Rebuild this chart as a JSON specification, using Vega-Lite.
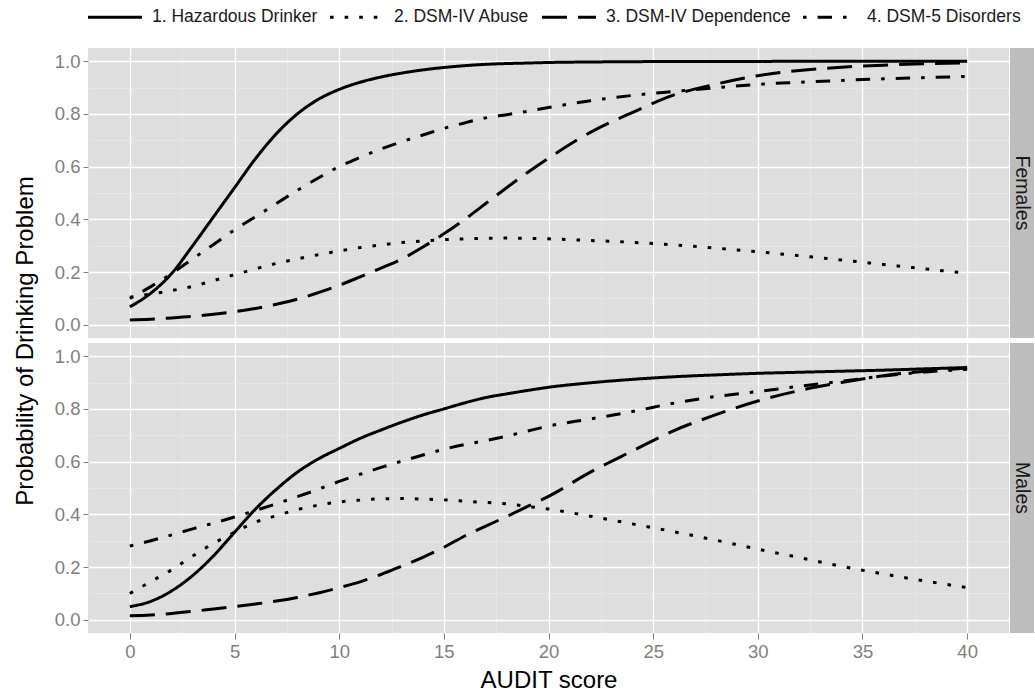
{
  "$schema": "https://vega.github.io/schema/vega-lite/v6.json",
  "padding": {"left": 13, "top": 2, "right": 0, "bottom": 0},
  "background": "white",
  "datasets": {
    "curves": [
      {"sex":"Females","measure":"1. Hazardous Drinker","score":0,"prob":0.068},
      {"sex":"Females","measure":"1. Hazardous Drinker","score":1,"prob":0.12},
      {"sex":"Females","measure":"1. Hazardous Drinker","score":2,"prob":0.195},
      {"sex":"Females","measure":"1. Hazardous Drinker","score":3,"prob":0.3},
      {"sex":"Females","measure":"1. Hazardous Drinker","score":4,"prob":0.41},
      {"sex":"Females","measure":"1. Hazardous Drinker","score":5,"prob":0.52},
      {"sex":"Females","measure":"1. Hazardous Drinker","score":6,"prob":0.63},
      {"sex":"Females","measure":"1. Hazardous Drinker","score":7,"prob":0.725},
      {"sex":"Females","measure":"1. Hazardous Drinker","score":8,"prob":0.8},
      {"sex":"Females","measure":"1. Hazardous Drinker","score":9,"prob":0.855},
      {"sex":"Females","measure":"1. Hazardous Drinker","score":10,"prob":0.893},
      {"sex":"Females","measure":"1. Hazardous Drinker","score":11,"prob":0.92},
      {"sex":"Females","measure":"1. Hazardous Drinker","score":12,"prob":0.94},
      {"sex":"Females","measure":"1. Hazardous Drinker","score":13,"prob":0.955},
      {"sex":"Females","measure":"1. Hazardous Drinker","score":14,"prob":0.967},
      {"sex":"Females","measure":"1. Hazardous Drinker","score":15,"prob":0.976},
      {"sex":"Females","measure":"1. Hazardous Drinker","score":16,"prob":0.983},
      {"sex":"Females","measure":"1. Hazardous Drinker","score":17,"prob":0.988},
      {"sex":"Females","measure":"1. Hazardous Drinker","score":18,"prob":0.991},
      {"sex":"Females","measure":"1. Hazardous Drinker","score":19,"prob":0.993},
      {"sex":"Females","measure":"1. Hazardous Drinker","score":20,"prob":0.995},
      {"sex":"Females","measure":"1. Hazardous Drinker","score":22,"prob":0.997},
      {"sex":"Females","measure":"1. Hazardous Drinker","score":24,"prob":0.998},
      {"sex":"Females","measure":"1. Hazardous Drinker","score":26,"prob":0.999},
      {"sex":"Females","measure":"1. Hazardous Drinker","score":28,"prob":0.999},
      {"sex":"Females","measure":"1. Hazardous Drinker","score":30,"prob":0.999},
      {"sex":"Females","measure":"1. Hazardous Drinker","score":32,"prob":1.0},
      {"sex":"Females","measure":"1. Hazardous Drinker","score":34,"prob":1.0},
      {"sex":"Females","measure":"1. Hazardous Drinker","score":36,"prob":1.0},
      {"sex":"Females","measure":"1. Hazardous Drinker","score":38,"prob":1.0},
      {"sex":"Females","measure":"1. Hazardous Drinker","score":40,"prob":1.0},

      {"sex":"Females","measure":"2. DSM-IV Abuse","score":0,"prob":0.105},
      {"sex":"Females","measure":"2. DSM-IV Abuse","score":1,"prob":0.117},
      {"sex":"Females","measure":"2. DSM-IV Abuse","score":2,"prob":0.13},
      {"sex":"Females","measure":"2. DSM-IV Abuse","score":3,"prob":0.146},
      {"sex":"Females","measure":"2. DSM-IV Abuse","score":4,"prob":0.168},
      {"sex":"Females","measure":"2. DSM-IV Abuse","score":5,"prob":0.19},
      {"sex":"Females","measure":"2. DSM-IV Abuse","score":6,"prob":0.212},
      {"sex":"Females","measure":"2. DSM-IV Abuse","score":7,"prob":0.233},
      {"sex":"Females","measure":"2. DSM-IV Abuse","score":8,"prob":0.25},
      {"sex":"Females","measure":"2. DSM-IV Abuse","score":9,"prob":0.266},
      {"sex":"Females","measure":"2. DSM-IV Abuse","score":10,"prob":0.28},
      {"sex":"Females","measure":"2. DSM-IV Abuse","score":11,"prob":0.293},
      {"sex":"Females","measure":"2. DSM-IV Abuse","score":12,"prob":0.303},
      {"sex":"Females","measure":"2. DSM-IV Abuse","score":13,"prob":0.312},
      {"sex":"Females","measure":"2. DSM-IV Abuse","score":14,"prob":0.318},
      {"sex":"Females","measure":"2. DSM-IV Abuse","score":15,"prob":0.323},
      {"sex":"Females","measure":"2. DSM-IV Abuse","score":16,"prob":0.326},
      {"sex":"Females","measure":"2. DSM-IV Abuse","score":17,"prob":0.328},
      {"sex":"Females","measure":"2. DSM-IV Abuse","score":18,"prob":0.329},
      {"sex":"Females","measure":"2. DSM-IV Abuse","score":19,"prob":0.328},
      {"sex":"Females","measure":"2. DSM-IV Abuse","score":20,"prob":0.326},
      {"sex":"Females","measure":"2. DSM-IV Abuse","score":22,"prob":0.32},
      {"sex":"Females","measure":"2. DSM-IV Abuse","score":24,"prob":0.313},
      {"sex":"Females","measure":"2. DSM-IV Abuse","score":26,"prob":0.303},
      {"sex":"Females","measure":"2. DSM-IV Abuse","score":28,"prob":0.291},
      {"sex":"Females","measure":"2. DSM-IV Abuse","score":30,"prob":0.277},
      {"sex":"Females","measure":"2. DSM-IV Abuse","score":32,"prob":0.262},
      {"sex":"Females","measure":"2. DSM-IV Abuse","score":34,"prob":0.246},
      {"sex":"Females","measure":"2. DSM-IV Abuse","score":36,"prob":0.229},
      {"sex":"Females","measure":"2. DSM-IV Abuse","score":38,"prob":0.212},
      {"sex":"Females","measure":"2. DSM-IV Abuse","score":40,"prob":0.196},

      {"sex":"Females","measure":"3. DSM-IV Dependence","score":0,"prob":0.018},
      {"sex":"Females","measure":"3. DSM-IV Dependence","score":1,"prob":0.021},
      {"sex":"Females","measure":"3. DSM-IV Dependence","score":2,"prob":0.026},
      {"sex":"Females","measure":"3. DSM-IV Dependence","score":3,"prob":0.032},
      {"sex":"Females","measure":"3. DSM-IV Dependence","score":4,"prob":0.04},
      {"sex":"Females","measure":"3. DSM-IV Dependence","score":5,"prob":0.05},
      {"sex":"Females","measure":"3. DSM-IV Dependence","score":6,"prob":0.062},
      {"sex":"Females","measure":"3. DSM-IV Dependence","score":7,"prob":0.078},
      {"sex":"Females","measure":"3. DSM-IV Dependence","score":8,"prob":0.097},
      {"sex":"Females","measure":"3. DSM-IV Dependence","score":9,"prob":0.122},
      {"sex":"Females","measure":"3. DSM-IV Dependence","score":10,"prob":0.15},
      {"sex":"Females","measure":"3. DSM-IV Dependence","score":11,"prob":0.182},
      {"sex":"Females","measure":"3. DSM-IV Dependence","score":12,"prob":0.215},
      {"sex":"Females","measure":"3. DSM-IV Dependence","score":13,"prob":0.25},
      {"sex":"Females","measure":"3. DSM-IV Dependence","score":14,"prob":0.295},
      {"sex":"Females","measure":"3. DSM-IV Dependence","score":15,"prob":0.345},
      {"sex":"Females","measure":"3. DSM-IV Dependence","score":16,"prob":0.4},
      {"sex":"Females","measure":"3. DSM-IV Dependence","score":17,"prob":0.46},
      {"sex":"Females","measure":"3. DSM-IV Dependence","score":18,"prob":0.52},
      {"sex":"Females","measure":"3. DSM-IV Dependence","score":19,"prob":0.578},
      {"sex":"Females","measure":"3. DSM-IV Dependence","score":20,"prob":0.632},
      {"sex":"Females","measure":"3. DSM-IV Dependence","score":22,"prob":0.73},
      {"sex":"Females","measure":"3. DSM-IV Dependence","score":24,"prob":0.805},
      {"sex":"Females","measure":"3. DSM-IV Dependence","score":26,"prob":0.872},
      {"sex":"Females","measure":"3. DSM-IV Dependence","score":28,"prob":0.913},
      {"sex":"Females","measure":"3. DSM-IV Dependence","score":30,"prob":0.945},
      {"sex":"Females","measure":"3. DSM-IV Dependence","score":32,"prob":0.965},
      {"sex":"Females","measure":"3. DSM-IV Dependence","score":34,"prob":0.977},
      {"sex":"Females","measure":"3. DSM-IV Dependence","score":36,"prob":0.985},
      {"sex":"Females","measure":"3. DSM-IV Dependence","score":38,"prob":0.99},
      {"sex":"Females","measure":"3. DSM-IV Dependence","score":40,"prob":0.994},

      {"sex":"Females","measure":"4. DSM-5 Disorders","score":0,"prob":0.1},
      {"sex":"Females","measure":"4. DSM-5 Disorders","score":1,"prob":0.145},
      {"sex":"Females","measure":"4. DSM-5 Disorders","score":2,"prob":0.195},
      {"sex":"Females","measure":"4. DSM-5 Disorders","score":3,"prob":0.25},
      {"sex":"Females","measure":"4. DSM-5 Disorders","score":4,"prob":0.305},
      {"sex":"Females","measure":"4. DSM-5 Disorders","score":5,"prob":0.36},
      {"sex":"Females","measure":"4. DSM-5 Disorders","score":6,"prob":0.41},
      {"sex":"Females","measure":"4. DSM-5 Disorders","score":7,"prob":0.46},
      {"sex":"Females","measure":"4. DSM-5 Disorders","score":8,"prob":0.51},
      {"sex":"Females","measure":"4. DSM-5 Disorders","score":9,"prob":0.557},
      {"sex":"Females","measure":"4. DSM-5 Disorders","score":10,"prob":0.6},
      {"sex":"Females","measure":"4. DSM-5 Disorders","score":11,"prob":0.635},
      {"sex":"Females","measure":"4. DSM-5 Disorders","score":12,"prob":0.667},
      {"sex":"Females","measure":"4. DSM-5 Disorders","score":13,"prob":0.695},
      {"sex":"Females","measure":"4. DSM-5 Disorders","score":14,"prob":0.72},
      {"sex":"Females","measure":"4. DSM-5 Disorders","score":15,"prob":0.745},
      {"sex":"Females","measure":"4. DSM-5 Disorders","score":16,"prob":0.766},
      {"sex":"Females","measure":"4. DSM-5 Disorders","score":17,"prob":0.785},
      {"sex":"Females","measure":"4. DSM-5 Disorders","score":18,"prob":0.797},
      {"sex":"Females","measure":"4. DSM-5 Disorders","score":19,"prob":0.81},
      {"sex":"Females","measure":"4. DSM-5 Disorders","score":20,"prob":0.824},
      {"sex":"Females","measure":"4. DSM-5 Disorders","score":22,"prob":0.85},
      {"sex":"Females","measure":"4. DSM-5 Disorders","score":24,"prob":0.87},
      {"sex":"Females","measure":"4. DSM-5 Disorders","score":26,"prob":0.885},
      {"sex":"Females","measure":"4. DSM-5 Disorders","score":28,"prob":0.899},
      {"sex":"Females","measure":"4. DSM-5 Disorders","score":30,"prob":0.912},
      {"sex":"Females","measure":"4. DSM-5 Disorders","score":32,"prob":0.92},
      {"sex":"Females","measure":"4. DSM-5 Disorders","score":34,"prob":0.927},
      {"sex":"Females","measure":"4. DSM-5 Disorders","score":36,"prob":0.933},
      {"sex":"Females","measure":"4. DSM-5 Disorders","score":38,"prob":0.938},
      {"sex":"Females","measure":"4. DSM-5 Disorders","score":40,"prob":0.942},

      {"sex":"Males","measure":"1. Hazardous Drinker","score":0,"prob":0.05},
      {"sex":"Males","measure":"1. Hazardous Drinker","score":1,"prob":0.07},
      {"sex":"Males","measure":"1. Hazardous Drinker","score":2,"prob":0.11},
      {"sex":"Males","measure":"1. Hazardous Drinker","score":3,"prob":0.168},
      {"sex":"Males","measure":"1. Hazardous Drinker","score":4,"prob":0.243},
      {"sex":"Males","measure":"1. Hazardous Drinker","score":5,"prob":0.332},
      {"sex":"Males","measure":"1. Hazardous Drinker","score":6,"prob":0.42},
      {"sex":"Males","measure":"1. Hazardous Drinker","score":7,"prob":0.495},
      {"sex":"Males","measure":"1. Hazardous Drinker","score":8,"prob":0.56},
      {"sex":"Males","measure":"1. Hazardous Drinker","score":9,"prob":0.61},
      {"sex":"Males","measure":"1. Hazardous Drinker","score":10,"prob":0.65},
      {"sex":"Males","measure":"1. Hazardous Drinker","score":11,"prob":0.688},
      {"sex":"Males","measure":"1. Hazardous Drinker","score":12,"prob":0.72},
      {"sex":"Males","measure":"1. Hazardous Drinker","score":13,"prob":0.75},
      {"sex":"Males","measure":"1. Hazardous Drinker","score":14,"prob":0.777},
      {"sex":"Males","measure":"1. Hazardous Drinker","score":15,"prob":0.8},
      {"sex":"Males","measure":"1. Hazardous Drinker","score":16,"prob":0.823},
      {"sex":"Males","measure":"1. Hazardous Drinker","score":17,"prob":0.843},
      {"sex":"Males","measure":"1. Hazardous Drinker","score":18,"prob":0.857},
      {"sex":"Males","measure":"1. Hazardous Drinker","score":19,"prob":0.87},
      {"sex":"Males","measure":"1. Hazardous Drinker","score":20,"prob":0.882},
      {"sex":"Males","measure":"1. Hazardous Drinker","score":22,"prob":0.899},
      {"sex":"Males","measure":"1. Hazardous Drinker","score":24,"prob":0.912},
      {"sex":"Males","measure":"1. Hazardous Drinker","score":26,"prob":0.922},
      {"sex":"Males","measure":"1. Hazardous Drinker","score":28,"prob":0.929},
      {"sex":"Males","measure":"1. Hazardous Drinker","score":30,"prob":0.935},
      {"sex":"Males","measure":"1. Hazardous Drinker","score":32,"prob":0.939},
      {"sex":"Males","measure":"1. Hazardous Drinker","score":34,"prob":0.943},
      {"sex":"Males","measure":"1. Hazardous Drinker","score":36,"prob":0.947},
      {"sex":"Males","measure":"1. Hazardous Drinker","score":38,"prob":0.952},
      {"sex":"Males","measure":"1. Hazardous Drinker","score":40,"prob":0.957},

      {"sex":"Males","measure":"2. DSM-IV Abuse","score":0,"prob":0.1},
      {"sex":"Males","measure":"2. DSM-IV Abuse","score":1,"prob":0.145},
      {"sex":"Males","measure":"2. DSM-IV Abuse","score":2,"prob":0.19},
      {"sex":"Males","measure":"2. DSM-IV Abuse","score":3,"prob":0.242},
      {"sex":"Males","measure":"2. DSM-IV Abuse","score":4,"prob":0.29},
      {"sex":"Males","measure":"2. DSM-IV Abuse","score":5,"prob":0.332},
      {"sex":"Males","measure":"2. DSM-IV Abuse","score":6,"prob":0.37},
      {"sex":"Males","measure":"2. DSM-IV Abuse","score":7,"prob":0.395},
      {"sex":"Males","measure":"2. DSM-IV Abuse","score":8,"prob":0.418},
      {"sex":"Males","measure":"2. DSM-IV Abuse","score":9,"prob":0.435},
      {"sex":"Males","measure":"2. DSM-IV Abuse","score":10,"prob":0.447},
      {"sex":"Males","measure":"2. DSM-IV Abuse","score":11,"prob":0.454},
      {"sex":"Males","measure":"2. DSM-IV Abuse","score":12,"prob":0.459},
      {"sex":"Males","measure":"2. DSM-IV Abuse","score":13,"prob":0.46},
      {"sex":"Males","measure":"2. DSM-IV Abuse","score":14,"prob":0.458},
      {"sex":"Males","measure":"2. DSM-IV Abuse","score":15,"prob":0.455},
      {"sex":"Males","measure":"2. DSM-IV Abuse","score":16,"prob":0.45},
      {"sex":"Males","measure":"2. DSM-IV Abuse","score":17,"prob":0.445},
      {"sex":"Males","measure":"2. DSM-IV Abuse","score":18,"prob":0.44},
      {"sex":"Males","measure":"2. DSM-IV Abuse","score":19,"prob":0.43},
      {"sex":"Males","measure":"2. DSM-IV Abuse","score":20,"prob":0.42},
      {"sex":"Males","measure":"2. DSM-IV Abuse","score":22,"prob":0.393},
      {"sex":"Males","measure":"2. DSM-IV Abuse","score":24,"prob":0.364},
      {"sex":"Males","measure":"2. DSM-IV Abuse","score":26,"prob":0.334},
      {"sex":"Males","measure":"2. DSM-IV Abuse","score":28,"prob":0.302},
      {"sex":"Males","measure":"2. DSM-IV Abuse","score":30,"prob":0.268},
      {"sex":"Males","measure":"2. DSM-IV Abuse","score":32,"prob":0.236},
      {"sex":"Males","measure":"2. DSM-IV Abuse","score":34,"prob":0.203},
      {"sex":"Males","measure":"2. DSM-IV Abuse","score":36,"prob":0.174},
      {"sex":"Males","measure":"2. DSM-IV Abuse","score":38,"prob":0.147},
      {"sex":"Males","measure":"2. DSM-IV Abuse","score":40,"prob":0.122},

      {"sex":"Males","measure":"3. DSM-IV Dependence","score":0,"prob":0.015},
      {"sex":"Males","measure":"3. DSM-IV Dependence","score":1,"prob":0.018},
      {"sex":"Males","measure":"3. DSM-IV Dependence","score":2,"prob":0.024},
      {"sex":"Males","measure":"3. DSM-IV Dependence","score":3,"prob":0.032},
      {"sex":"Males","measure":"3. DSM-IV Dependence","score":4,"prob":0.041},
      {"sex":"Males","measure":"3. DSM-IV Dependence","score":5,"prob":0.05},
      {"sex":"Males","measure":"3. DSM-IV Dependence","score":6,"prob":0.06},
      {"sex":"Males","measure":"3. DSM-IV Dependence","score":7,"prob":0.071},
      {"sex":"Males","measure":"3. DSM-IV Dependence","score":8,"prob":0.085},
      {"sex":"Males","measure":"3. DSM-IV Dependence","score":9,"prob":0.102},
      {"sex":"Males","measure":"3. DSM-IV Dependence","score":10,"prob":0.122},
      {"sex":"Males","measure":"3. DSM-IV Dependence","score":11,"prob":0.144},
      {"sex":"Males","measure":"3. DSM-IV Dependence","score":12,"prob":0.172},
      {"sex":"Males","measure":"3. DSM-IV Dependence","score":13,"prob":0.204},
      {"sex":"Males","measure":"3. DSM-IV Dependence","score":14,"prob":0.237},
      {"sex":"Males","measure":"3. DSM-IV Dependence","score":15,"prob":0.275},
      {"sex":"Males","measure":"3. DSM-IV Dependence","score":16,"prob":0.318},
      {"sex":"Males","measure":"3. DSM-IV Dependence","score":17,"prob":0.355},
      {"sex":"Males","measure":"3. DSM-IV Dependence","score":18,"prob":0.392},
      {"sex":"Males","measure":"3. DSM-IV Dependence","score":19,"prob":0.43},
      {"sex":"Males","measure":"3. DSM-IV Dependence","score":20,"prob":0.468},
      {"sex":"Males","measure":"3. DSM-IV Dependence","score":22,"prob":0.56},
      {"sex":"Males","measure":"3. DSM-IV Dependence","score":24,"prob":0.64},
      {"sex":"Males","measure":"3. DSM-IV Dependence","score":26,"prob":0.718},
      {"sex":"Males","measure":"3. DSM-IV Dependence","score":28,"prob":0.778},
      {"sex":"Males","measure":"3. DSM-IV Dependence","score":30,"prob":0.83},
      {"sex":"Males","measure":"3. DSM-IV Dependence","score":32,"prob":0.87},
      {"sex":"Males","measure":"3. DSM-IV Dependence","score":34,"prob":0.9},
      {"sex":"Males","measure":"3. DSM-IV Dependence","score":36,"prob":0.926},
      {"sex":"Males","measure":"3. DSM-IV Dependence","score":38,"prob":0.943},
      {"sex":"Males","measure":"3. DSM-IV Dependence","score":40,"prob":0.955},

      {"sex":"Males","measure":"4. DSM-5 Disorders","score":0,"prob":0.28},
      {"sex":"Males","measure":"4. DSM-5 Disorders","score":1,"prob":0.3},
      {"sex":"Males","measure":"4. DSM-5 Disorders","score":2,"prob":0.322},
      {"sex":"Males","measure":"4. DSM-5 Disorders","score":3,"prob":0.345},
      {"sex":"Males","measure":"4. DSM-5 Disorders","score":4,"prob":0.367},
      {"sex":"Males","measure":"4. DSM-5 Disorders","score":5,"prob":0.39},
      {"sex":"Males","measure":"4. DSM-5 Disorders","score":6,"prob":0.415},
      {"sex":"Males","measure":"4. DSM-5 Disorders","score":7,"prob":0.44},
      {"sex":"Males","measure":"4. DSM-5 Disorders","score":8,"prob":0.467},
      {"sex":"Males","measure":"4. DSM-5 Disorders","score":9,"prob":0.495},
      {"sex":"Males","measure":"4. DSM-5 Disorders","score":10,"prob":0.525},
      {"sex":"Males","measure":"4. DSM-5 Disorders","score":11,"prob":0.552},
      {"sex":"Males","measure":"4. DSM-5 Disorders","score":12,"prob":0.578},
      {"sex":"Males","measure":"4. DSM-5 Disorders","score":13,"prob":0.602},
      {"sex":"Males","measure":"4. DSM-5 Disorders","score":14,"prob":0.625},
      {"sex":"Males","measure":"4. DSM-5 Disorders","score":15,"prob":0.647},
      {"sex":"Males","measure":"4. DSM-5 Disorders","score":16,"prob":0.665},
      {"sex":"Males","measure":"4. DSM-5 Disorders","score":17,"prob":0.68},
      {"sex":"Males","measure":"4. DSM-5 Disorders","score":18,"prob":0.697},
      {"sex":"Males","measure":"4. DSM-5 Disorders","score":19,"prob":0.716},
      {"sex":"Males","measure":"4. DSM-5 Disorders","score":20,"prob":0.735},
      {"sex":"Males","measure":"4. DSM-5 Disorders","score":22,"prob":0.762},
      {"sex":"Males","measure":"4. DSM-5 Disorders","score":24,"prob":0.79},
      {"sex":"Males","measure":"4. DSM-5 Disorders","score":26,"prob":0.822},
      {"sex":"Males","measure":"4. DSM-5 Disorders","score":28,"prob":0.847},
      {"sex":"Males","measure":"4. DSM-5 Disorders","score":30,"prob":0.866},
      {"sex":"Males","measure":"4. DSM-5 Disorders","score":32,"prob":0.886},
      {"sex":"Males","measure":"4. DSM-5 Disorders","score":34,"prob":0.905},
      {"sex":"Males","measure":"4. DSM-5 Disorders","score":36,"prob":0.925},
      {"sex":"Males","measure":"4. DSM-5 Disorders","score":38,"prob":0.94},
      {"sex":"Males","measure":"4. DSM-5 Disorders","score":40,"prob":0.95}
    ],
    "strips": [{"label": "Females"}, {"label": "Males"}]
  },
  "data": {"name": "curves"},
  "spacing": 1,
  "resolve": {"scale": {"strokeDash": "shared"}},
  "hconcat": [
    {
      "bounds": "flush",
      "spacing": 5,
      "vconcat": [
        {
          "width": 921,
          "height": 290,
          "transform": [{"filter": "datum.sex === 'Females'"}],
          "mark": {"type": "line", "color": "black", "strokeWidth": 3, "interpolate": "monotone", "strokeCap": "butt"},
          "encoding": {
            "x": {
              "field": "score", "type": "quantitative",
              "scale": {"domain": [-2, 42], "nice": false, "zero": false},
              "axis": {
                "values": [0, 2.5, 5, 7.5, 10, 12.5, 15, 17.5, 20, 22.5, 25, 27.5, 30, 32.5, 35, 37.5, 40],
                "labels": false, "ticks": false, "title": null,
                "gridColor": {"condition": {"test": "datum.value % 5 === 0", "value": "#FFFFFF"}, "value": "#EAEAEA"},
                "gridWidth": {"condition": {"test": "datum.value % 5 === 0", "value": 1.3}, "value": 0.7}
              }
            },
            "y": {
              "field": "prob", "type": "quantitative",
              "scale": {"domain": [-0.05, 1.05], "nice": false, "zero": false},
              "axis": {
                "values": [0, 0.1, 0.2, 0.3, 0.4, 0.5, 0.6, 0.7, 0.8, 0.9, 1.0],
                "labelExpr": "round(datum.value * 10) % 2 === 0 ? format(datum.value, '.1f') : ''",
                "tickSize": {"condition": {"test": "round(datum.value * 10) % 2 === 0", "value": 5}, "value": 0},
                "gridColor": {"condition": {"test": "round(datum.value * 10) % 2 === 0", "value": "#FFFFFF"}, "value": "#EAEAEA"},
                "gridWidth": {"condition": {"test": "round(datum.value * 10) % 2 === 0", "value": 1.3}, "value": 0.7},
                "title": "Probability of Drinking Problem",
                "titleY": 292.5,
                "titlePadding": 17
              }
            },
            "strokeDash": {
              "field": "measure", "type": "nominal",
              "scale": {
                "domain": ["1. Hazardous Drinker", "2. DSM-IV Abuse", "3. DSM-IV Dependence", "4. DSM-5 Disorders"],
                "range": [[1, 0], [3.6, 11], [25, 11], [3.6, 11, 14.4, 11]]
              },
              "legend": {
                "title": null, "orient": "none", "legendX": 12, "legendY": -46, "direction": "horizontal",
                "symbolType": "M-2,0H2", "symbolSize": 729, "symbolStrokeWidth": 3,
                "symbolStrokeColor": "black", "labelFontSize": 17.5, "labelColor": "#1A1A1A",
                "labelFont": "Liberation Sans", "labelOffset": 22, "columnPadding": 6,
                "labelLimit": 400
              }
            }
          }
        },
        {
          "width": 921,
          "height": 290,
          "transform": [{"filter": "datum.sex === 'Males'"}],
          "mark": {"type": "line", "color": "black", "strokeWidth": 3, "interpolate": "monotone", "strokeCap": "butt"},
          "encoding": {
            "x": {
              "field": "score", "type": "quantitative",
              "scale": {"domain": [-2, 42], "nice": false, "zero": false},
              "axis": {
                "values": [0, 2.5, 5, 7.5, 10, 12.5, 15, 17.5, 20, 22.5, 25, 27.5, 30, 32.5, 35, 37.5, 40],
                "labelExpr": "datum.value % 5 === 0 ? datum.label : ''",
                "tickSize": {"condition": {"test": "datum.value % 5 === 0", "value": 6}, "value": 0},
                "gridColor": {"condition": {"test": "datum.value % 5 === 0", "value": "#FFFFFF"}, "value": "#EAEAEA"},
                "gridWidth": {"condition": {"test": "datum.value % 5 === 0", "value": 1.3}, "value": 0.7},
                "title": "AUDIT score",
                "labelPadding": 3,
                "titlePadding": 8
              }
            },
            "y": {
              "field": "prob", "type": "quantitative",
              "scale": {"domain": [-0.05, 1.05], "nice": false, "zero": false},
              "axis": {
                "values": [0, 0.1, 0.2, 0.3, 0.4, 0.5, 0.6, 0.7, 0.8, 0.9, 1.0],
                "labelExpr": "round(datum.value * 10) % 2 === 0 ? format(datum.value, '.1f') : ''",
                "tickSize": {"condition": {"test": "round(datum.value * 10) % 2 === 0", "value": 5}, "value": 0},
                "gridColor": {"condition": {"test": "round(datum.value * 10) % 2 === 0", "value": "#FFFFFF"}, "value": "#EAEAEA"},
                "gridWidth": {"condition": {"test": "round(datum.value * 10) % 2 === 0", "value": 1.3}, "value": 0.7},
                "title": null
              }
            },
            "strokeDash": {
              "field": "measure", "type": "nominal",
              "scale": {
                "domain": ["1. Hazardous Drinker", "2. DSM-IV Abuse", "3. DSM-IV Dependence", "4. DSM-5 Disorders"],
                "range": [[1, 0], [3.6, 11], [25, 11], [3.6, 11, 14.4, 11]]
              },
              "legend": {
                "title": null, "orient": "none", "legendX": 12, "legendY": -46, "direction": "horizontal",
                "symbolType": "M-2,0H2", "symbolSize": 729, "symbolStrokeWidth": 3,
                "symbolStrokeColor": "black", "labelFontSize": 17.5, "labelColor": "#1A1A1A",
                "labelFont": "Liberation Sans", "labelOffset": 22, "columnPadding": 6,
                "labelLimit": 400
              }
            }
          }
        }
      ]
    },
    {
      "bounds": "flush",
      "spacing": 5,
      "vconcat": [
        {
          "width": 24,
          "height": 290,
          "data": {"name": "strips"},
          "transform": [{"filter": "datum.label === 'Females'"}],
          "view": {"fill": "#BDBDBD", "stroke": null},
          "mark": {"type": "text", "angle": 90, "fontSize": 19.5, "color": "#1A1A1A", "font": "Liberation Sans"},
          "encoding": {"text": {"field": "label"}}
        },
        {
          "width": 24,
          "height": 290,
          "data": {"name": "strips"},
          "transform": [{"filter": "datum.label === 'Males'"}],
          "view": {"fill": "#BDBDBD", "stroke": null},
          "mark": {"type": "text", "angle": 90, "fontSize": 19.5, "color": "#1A1A1A", "font": "Liberation Sans"},
          "encoding": {"text": {"field": "label"}}
        }
      ]
    }
  ],
  "config": {
    "font": "Liberation Sans",
    "view": {"fill": "#DEDEDE", "stroke": null},
    "axis": {
      "domain": false,
      "labelFont": "Liberation Sans",
      "labelFontSize": 18.5,
      "labelColor": "#7F7F7F",
      "labelOverlap": false,
      "labelPadding": 3,
      "tickColor": "#7F7F7F",
      "titleFont": "Liberation Sans",
      "titleFontSize": 24,
      "titleFontWeight": "normal",
      "titleColor": "#000000"
    }
  }
}
